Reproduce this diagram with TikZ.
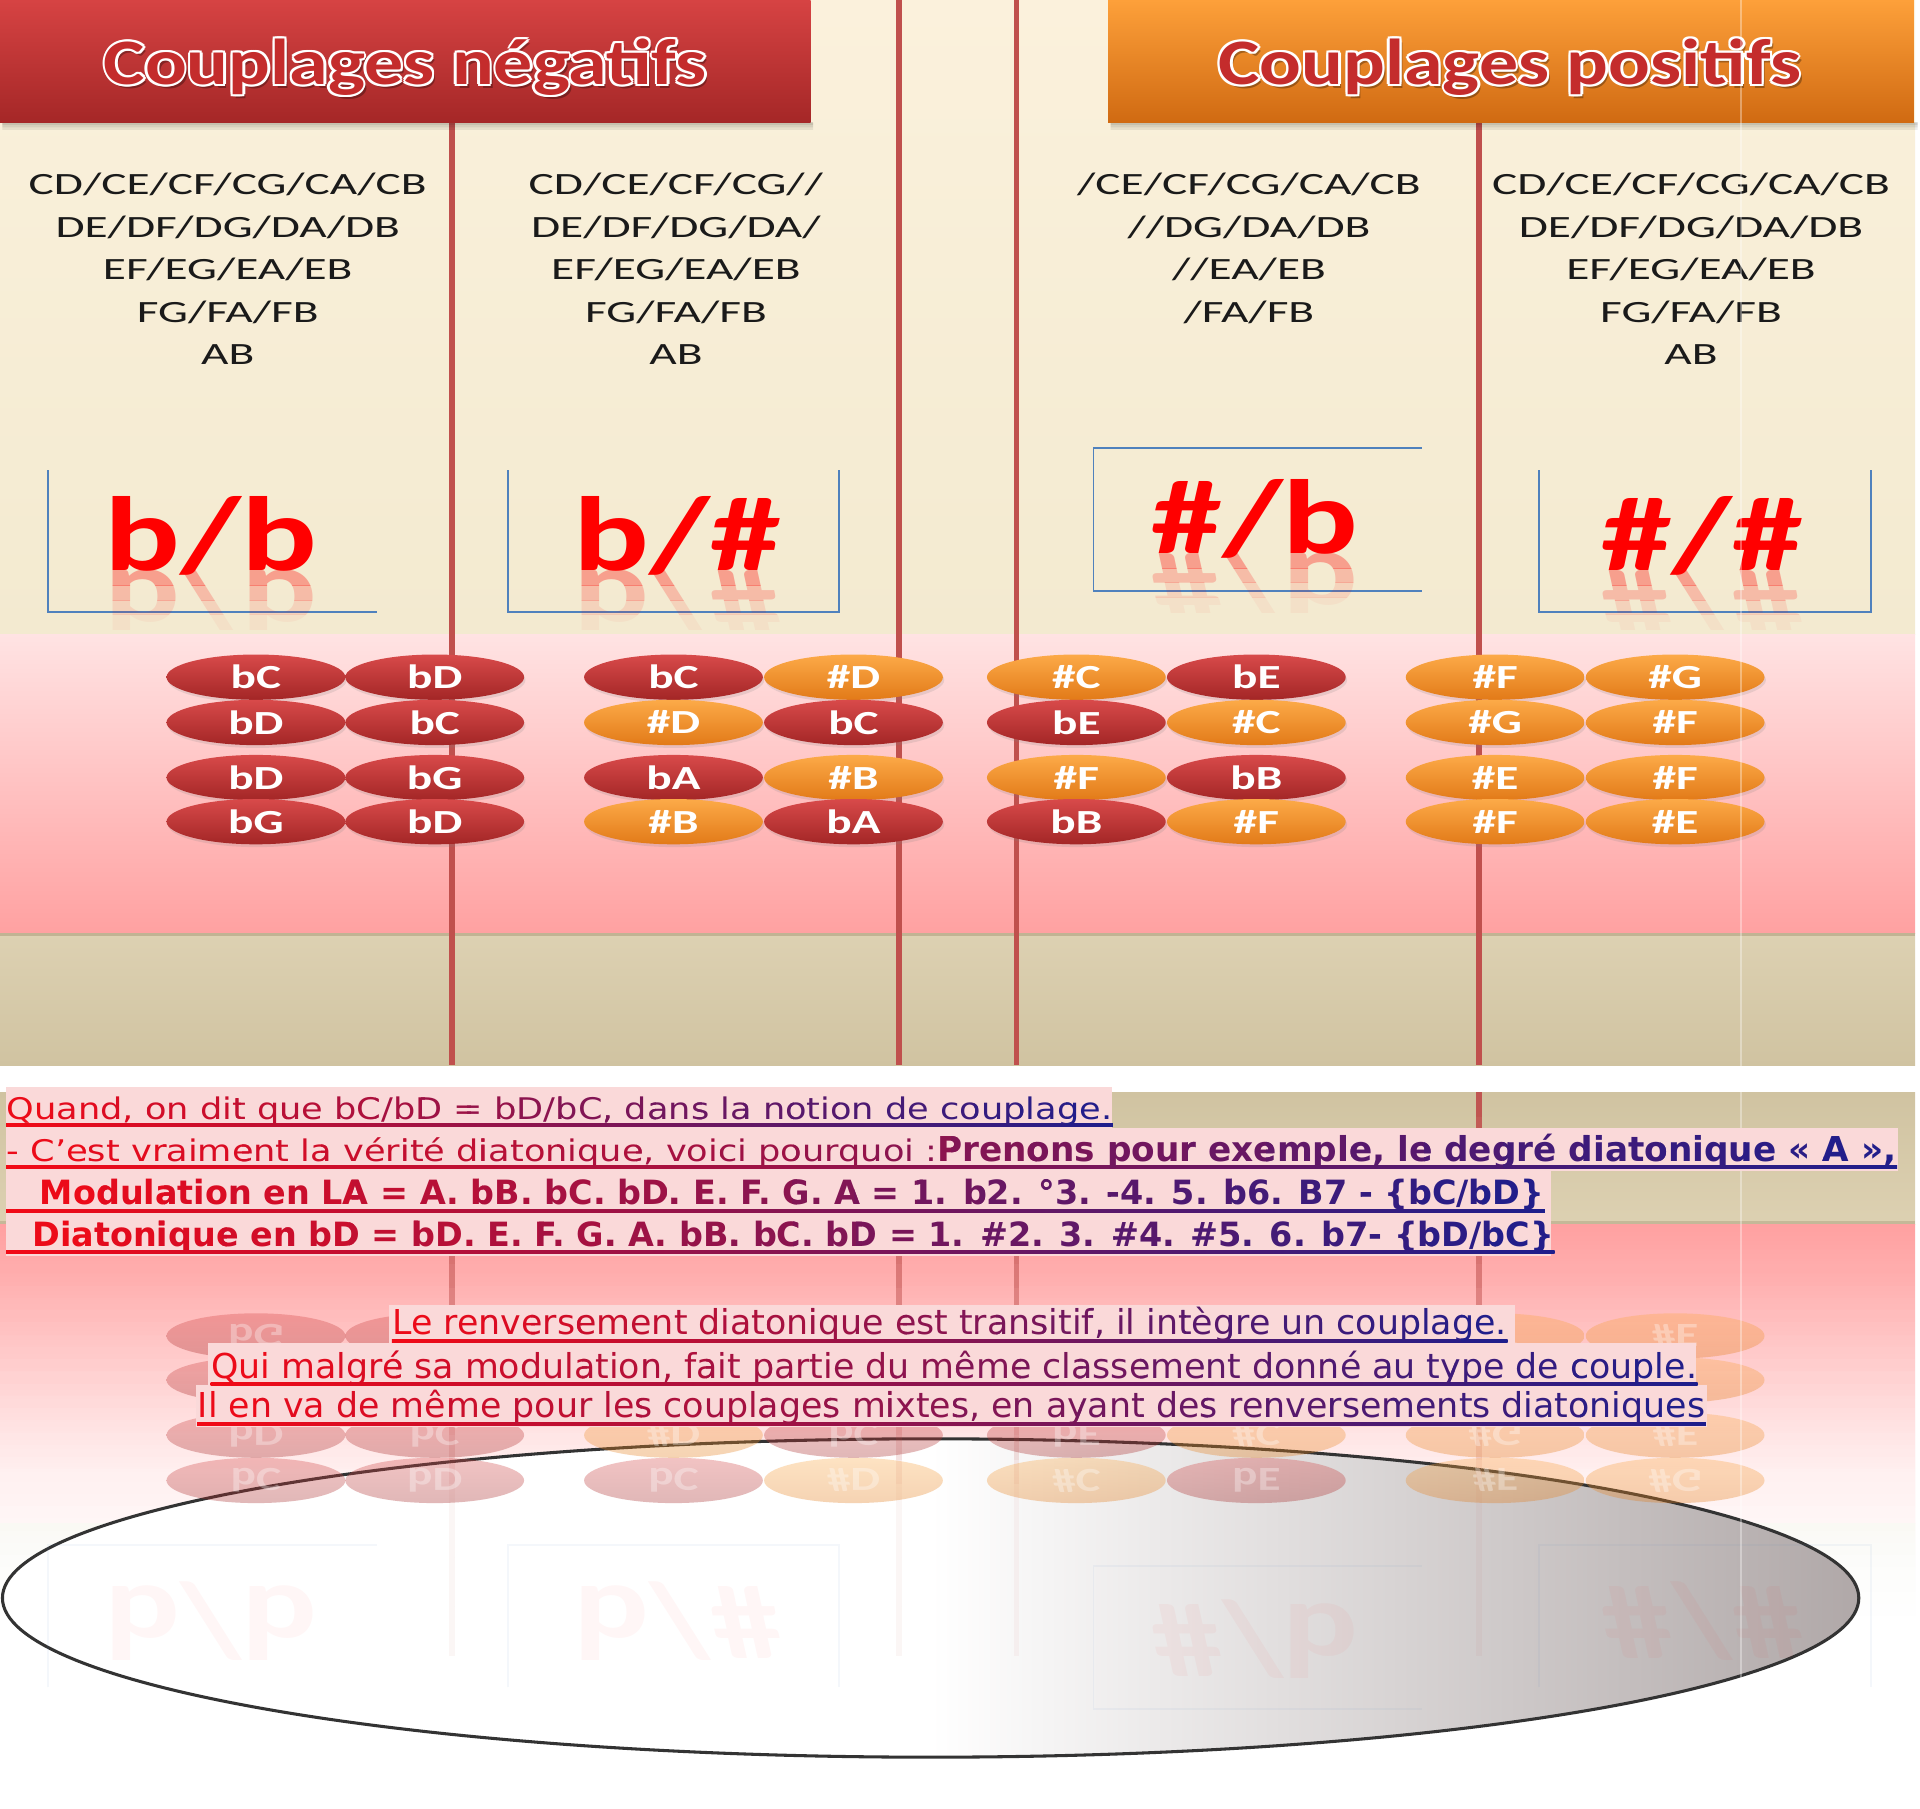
\documentclass[tikz,border=0pt]{standalone}
\usepackage{fontspec}
\usepackage{xcolor}
\usepackage{tikz}
\usetikzlibrary{shapes.geometric,calc,shadows}
\newfontfamily\headfont[FakeStretch=1.2]{Carlito}
\newfontfamily\listfont[FakeStretch=1.53]{Carlito}
\newfontfamily\ovalfont[FakeStretch=1.4]{Carlito}
\newfontfamily\bigfont[FakeStretch=1.34]{Carlito}
\newfontfamily\noteR[FakeStretch=1.18]{DejaVu Sans}
\newfontfamily\noteB{DejaVu Sans}
\newfontfamily\noteC[FakeStretch=1.015]{DejaVu Sans}
\newcommand\regsz{\noteR\fontsize{8.47}{10}\selectfont}
\newcommand\boldsz{\noteB\bfseries\fontsize{9.75}{11}\selectfont}
\newcommand\boldsm{\noteB\bfseries\fontsize{9.5}{11}\selectfont}
\newcommand\midsz{\noteC\fontsize{9.75}{11}\selectfont}
\definecolor{cpCreamTop}{HTML}{FBF1DC}
\definecolor{cpCreamBot}{HTML}{F3EAD0}
\definecolor{cpPinkTop}{HTML}{FFE3E3}
\definecolor{cpPinkBot}{HTML}{FFA1A1}
\definecolor{cpTanTop}{HTML}{DDD1B2}
\definecolor{cpTanBot}{HTML}{D0C3A1}
\definecolor{cpTanEdge}{HTML}{AFA07F}
\definecolor{cpRule}{HTML}{C0504D}
\definecolor{cpFrame}{HTML}{4F81BD}
\definecolor{cpRedTop}{HTML}{D64343}
\definecolor{cpRedBot}{HTML}{A52727}
\definecolor{cpOrTop}{HTML}{FDA03A}
\definecolor{cpOrBot}{HTML}{D06A12}
\definecolor{cpOvRedTop}{HTML}{D84A4A}
\definecolor{cpOvRedBot}{HTML}{A32626}
\definecolor{cpOvOrTop}{HTML}{FCAA48}
\definecolor{cpOvOrBot}{HTML}{E27A18}
\definecolor{cpSign}{HTML}{FF0000}
\definecolor{cpHead}{HTML}{C42C2C}
\definecolor{cpHigh}{HTML}{FAD9D9}
\definecolor{cpGRed}{HTML}{F20A16}
\definecolor{cpGNavy}{HTML}{1E1E8C}
\definecolor{cpGray}{HTML}{B0A8A8}
\definecolor{cpInk}{HTML}{1A1A1A}
\newlength{\upx}\setlength{\upx}{0.012245cm}
\tikzset{
  rule/.style={draw=cpRule,line width=4.5\upx},
  frame/.style={draw=cpFrame,line width=1.6\upx},
  negbar/.style={rectangle,minimum width=662\upx,minimum height=100\upx,
    inner sep=0,top color=cpRedTop,bottom color=cpRedBot},
  posbar/.style={rectangle,minimum width=658\upx,minimum height=100\upx,
    inner sep=0,top color=cpOrTop,bottom color=cpOrBot},
  headtxt/.style={font=\headfont\bfseries\fontsize{18.45}{21}\selectfont,
    anchor=base,inner sep=0},
  listtxt/.style={font=\listfont\fontsize{8.8}{12.09}\selectfont,
    align=center,text=cpInk,anchor=north,inner sep=0},
  signtxt/.style={font=\bigfont\bfseries\fontsize{30}{30}\selectfont,
    text=cpSign,anchor=base,inner sep=0},
  noteoval/.style={ellipse,minimum width=146\upx,minimum height=37\upx,
    inner sep=0,text=white,font=\ovalfont\bfseries\fontsize{9.6}{10}\selectfont},
  ovfill/.style={top color=cpOv#1Top,bottom color=cpOv#1Bot},
  linetxt/.style={anchor=base west,inner sep=0},
  hilite/.style={fill=cpHigh},
  disc/.style={ellipse,minimum width=1516\upx,minimum height=260\upx,
    draw=black!80,line width=2.5\upx,
    left color=white,right color=cpGray,middle color=white},
}
% header text with a white rim and a soft shadow
\newcommand\headline[4]{%
  \node[headtxt,text=black,opacity=0.3] (#1sh) at (#2+2.5,#3+3) {#4};
  \foreach \dx/\dy [count=\q] in {-2/0,2/0,0/-2,0/2,-1.5/-1.5,1.5/-1.5,-1.5/1.5,1.5/1.5}
    \node[headtxt,text=white] (#1w\q) at (#2+\dx,#3+\dy) {#4};
  \node[headtxt,text=cpHead] (#1) at (#2,#3) {#4};
}
% big sign label with its mirror image below the baseline
\newcommand\signlabel[4]{%
  \node[signtxt] (#1) at (#2,#3) {#4};
  \foreach \k/\op in {0/0.32,1/0.2,2/0.1,3/0.04}{
    \begin{scope}
      \clip (#2-110,#3+\k*12) rectangle (#2+110,#3+\k*12+12);
      \begin{scope}[shift={(0,2*#3)},yscale=-1]
        \node[signtxt,transform shape,opacity=\op] (#1m\k) at (#2,#3) {#4};
      \end{scope}
    \end{scope}
  }
}
% the 32 ovals
\newcommand\ovalrows[2]{%
  \foreach \ox/\oy/\os/\ol [count=\n] in {
    209/553/Red/bC, 355/553/Red/bD, 209/590/Red/bD, 355/590/Red/bC,
    209/635/Red/bD, 355/635/Red/bG, 209/671/Red/bG, 355/671/Red/bD,
    550/553/Red/bC, 697/553/Or/\#D, 550/590/Or/\#D, 697/590/Red/bC,
    550/635/Red/bA, 697/635/Or/\#B, 550/671/Or/\#B, 697/671/Red/bA,
    879/553/Or/\#C, 1026/553/Red/bE, 879/590/Red/bE, 1026/590/Or/\#C,
    879/635/Or/\#F, 1026/635/Red/bB, 879/671/Red/bB, 1026/671/Or/\#F,
    1221/553/Or/\#F, 1368/553/Or/\#G, 1221/590/Or/\#G, 1368/590/Or/\#F,
    1221/635/Or/\#E, 1368/635/Or/\#F, 1221/671/Or/\#F, 1368/671/Or/\#E}
    \node[noteoval,ovfill=\os,#2] (#1\n) at (\ox,\oy) {\ol};
}
% one underlined text line, coloured from red to navy
\newcommand\gradline[5]{%
  \node[linetxt,text opacity=0] (#1) at (#2,#3) {#5};
  \shade[left color=cpGRed,right color=cpGNavy]
    (#4,#3+3.5) rectangle ($(#1.base east)+(0,6)$);
  \foreach \k [evaluate=\k as \fa using \k/24,
               evaluate=\k as \fb using (\k+1)/24+0.003,
               evaluate=\k as \pc using int(100-100*(\k+0.5)/24)] in {0,...,23}{
    \begin{scope}
      \clip ($(#1.north west)!\fa!(#1.north east)+(0,-4)$)
        rectangle ($(#1.south west)!\fb!(#1.south east)+(0,4)$);
      \node[linetxt,text=cpGRed!\pc!cpGNavy] (#1s\k) at (#2,#3) {#5};
    \end{scope}
  }
}

\begin{document}
\begin{tikzpicture}[x=\upx,y=-\upx]
  \useasboundingbox (0,0) rectangle (1568,1477);
  \fill[white] (0,0) rectangle (1568,1477);

  % background bands
  \shade[top color=cpCreamTop,bottom color=cpCreamBot] (0,0) rectangle (1564,518);
  \shade[top color=cpPinkTop,bottom color=cpPinkBot] (0,518) rectangle (1564,762);
  \shade[top color=cpTanTop,bottom color=cpTanBot] (0,762) rectangle (1564,870);
  \draw[cpTanEdge,opacity=0.6,line width=2.5\upx] (0,763.5) -- (1564,763.5);

  \draw[rule] (369,100) -- (369,870);
  \draw[rule] (734,0) -- (734,870);
  \draw[rule] (830,0) -- (830,870);
  \draw[rule] (1208,100) -- (1208,870);

  % headers
  \foreach \s in {2,4,6}
    \fill[black,opacity=0.07] (2,100) rectangle (664,100+\s)
                              (907,100) rectangle (1566,100+\s);
  \node[negbar] (hneg) at (331,50) {};
  \node[posbar] (hpos) at (1234,50) {};
  \headline{tneg}{331}{69}{Couplages négatifs}
  \headline{tpos}{1233}{69}{Couplages positifs}

  % coupling lists
  \node[listtxt] (negA) at (186,141)
    {CD/CE/CF/CG/CA/CB\\DE/DF/DG/DA/DB\\EF/EG/EA/EB\\FG/FA/FB\\AB};
  \node[listtxt] (negB) at (552,141)
    {CD/CE/CF/CG//\\DE/DF/DG/DA/\\EF/EG/EA/EB\\FG/FA/FB\\AB};
  \node[listtxt] (posA) at (1020,141)
    {/CE/CF/CG/CA/CB\\//DG/DA/DB\\//EA/EB\\/FA/FB};
  \node[listtxt] (posB) at (1381,141)
    {CD/CE/CF/CG/CA/CB\\DE/DF/DG/DA/DB\\EF/EG/EA/EB\\FG/FA/FB\\AB};

  % open frames and sign labels
  \draw[frame] (39,384) |- (308,500);
  \draw[frame] (415,384) |- (685,500) -- (685,384);
  \draw[frame] (1161,366) -| (893,483) -- (1161,483);
  \draw[frame] (1257,384) |- (1528,500) -- (1528,384);
  \signlabel{sbb}{172}{466}{b/b}
  \signlabel{sbs}{553}{466}{b/\#}
  \signlabel{ssb}{1025}{452}{\#/b}
  \signlabel{sss}{1390}{466}{\#/\#}

  \ovalrows{ov}{drop shadow={opacity=0.18,shadow xshift=0.4pt,shadow yshift=-0.8pt}}

  % reflection of the bands, fading to white
  \shade[top color=cpTanBot,bottom color=cpTanTop] (0,892) rectangle (1564,1000);
  \draw[cpTanEdge,opacity=0.5,line width=2.5\upx] (0,998.5) -- (1564,998.5);
  \shade[top color=cpPinkBot,bottom color=cpPinkTop] (0,1000) rectangle (1564,1244);
  \shade[top color=cpCreamBot,bottom color=cpCreamTop] (0,1244) rectangle (1564,1477);
  \foreach \k [evaluate=\k as \op using
      {1-(1-(\k/33)*(\k/33)*(3-2*\k/33))/(1-((\k-1)/33)*((\k-1)/33)*(3-2*(\k-1)/33))}]
      in {1,...,33}
    \fill[white,opacity=\op] (0,990+10*\k) rectangle (1568,1477);

  \node[disc] (bowl) at (760,1305) {};

  % reflected rules, ovals and frames
  \foreach \lx in {369,734,830,1208}{
    \foreach \k [evaluate=\k as \op using {0.05+0.9*(1-\k/16)*(\k<16)}] in {0,...,22}
      \draw[rule,opacity=\op] (\lx,892+20*\k) -- (\lx,912+20*\k);
  }
  \begin{scope}[shift={(0,1762)},yscale=-1]
    \ovalrows{rov}{opacity=0.33,transform shape}
    \begin{scope}[opacity=0.06]
      \draw[frame] (39,384) |- (308,500);
      \draw[frame] (415,384) |- (685,500) -- (685,384);
      \draw[frame] (1161,366) -| (893,483) -- (1161,483);
      \draw[frame] (1257,384) |- (1528,500) -- (1528,384);
    \end{scope}
    \node[signtxt,transform shape,opacity=0.035] (rsbb) at (172,466) {b/b};
    \node[signtxt,transform shape,opacity=0.035] (rsbs) at (553,466) {b/\#};
    \node[signtxt,transform shape,opacity=0.035] (rssb) at (1025,452) {\#/b};
    \node[signtxt,transform shape,opacity=0.035] (rsss) at (1390,466) {\#/\#};
  \end{scope}
  \draw[white,opacity=0.35,line width=1.5\upx] (1422,0) -- (1422,1477);

  % notes
  \fill[hilite] (5,888) rectangle (908,921);
  \fill[hilite] (5,921) rectangle (1550,956);
  \fill[hilite] (5,956) rectangle (1267,991);
  \fill[hilite] (5,991) rectangle (1267,1026);
  \fill[hilite] (318,1066) rectangle (1237,1097);
  \fill[hilite] (170,1097) rectangle (1385,1131);
  \fill[hilite] (160,1131) rectangle (1394,1165);

  \gradline{la}{5}{914}{5}{\regsz Quand, on dit que bC/bD = bD/bC, dans la notion de couplage.}
  \gradline{lb}{5}{948.5}{5}{{\regsz - C’est vraiment la vérité diatonique, voici pourquoi :}{\boldsz Prenons pour exemple, le degré diatonique «~A~»,}}
  \gradline{lc}{32}{984}{5}{\boldsm Modulation en LA = A. bB. bC. bD. E. F. G. A = 1. b2. °3. -4. 5. b6. B7 - \{bC/bD\}}
  \gradline{ld}{26}{1018}{5}{\boldsm Diatonique en bD = bD. E. F. G. A. bB. bC. bD = 1. \#2. 3. \#4. \#5. 6. b7- \{bD/bC\}}
  \gradline{le}{320}{1090}{320}{\midsz Le renversement diatonique est transitif, il intègre un couplage.}
  \gradline{lf}{172}{1125.5}{172}{\midsz Qui malgré sa modulation, fait partie du même classement donné au type de couple.}
  \gradline{lg}{161}{1158}{161}{\midsz Il en va de même pour les couplages mixtes, en ayant des renversements diatoniques}
\end{tikzpicture}
\end{document}
